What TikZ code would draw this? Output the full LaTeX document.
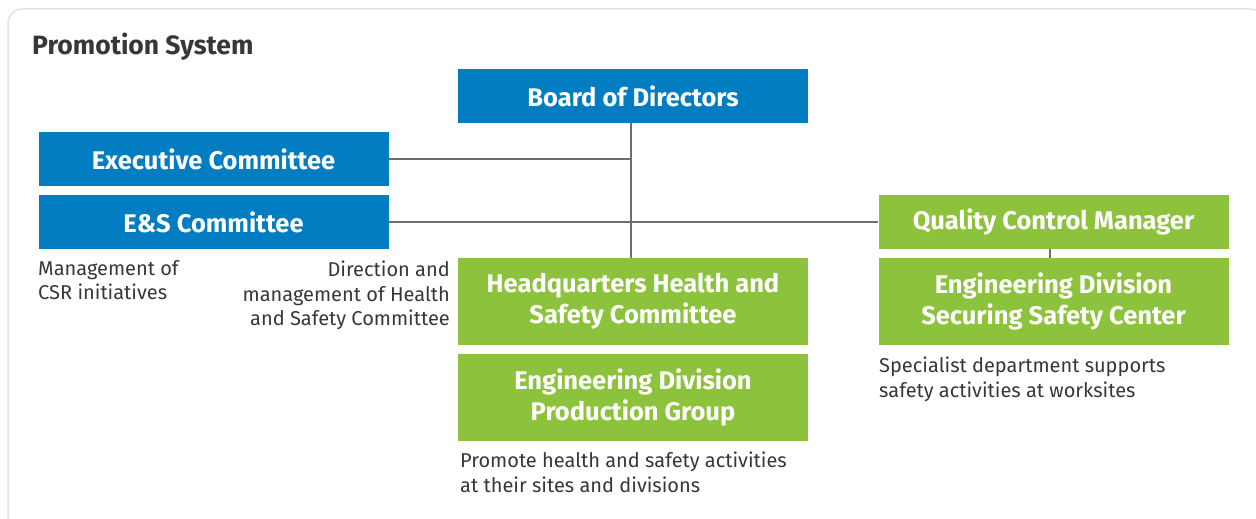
\documentclass[tikz,border=0pt]{standalone}
\usepackage{fontspec}
\setmainfont{Fira Sans}
\definecolor{bluebox}{RGB}{2,125,194}
\definecolor{greenbox}{RGB}{141,195,60}
\definecolor{linegrey}{RGB}{110,110,110}
\definecolor{framegrey}{RGB}{226,226,226}
\definecolor{textgrey}{RGB}{55,55,55}
\begin{document}
\begin{tikzpicture}[x=1pt,y=-1pt,
  box/.style={minimum width=350pt, inner sep=0pt, text=white, align=center,
     font=\fontsize{25.5}{31}\selectfont\bfseries},
  bluebx/.style={box, fill=bluebox, minimum height=54pt},
  greenbx/.style={box, fill=greenbox, minimum height=54pt},
  tallbx/.style={box, fill=greenbox, minimum height=87pt},
  conn/.style={draw=linegrey, line width=1.6pt},
  note/.style={inner sep=0pt, text=textgrey, font=\fontsize{20}{24.5}\selectfont}
]
\useasboundingbox (0,0) rectangle (1256,519);
\begin{scope}
\clip (0,0) rectangle (1256,519);
\draw[framegrey, line width=1.5pt, rounded corners=14pt] (8,9) rectangle (1264,540);
\end{scope}
\node[anchor=west, inner sep=0pt, text=textgrey, font=\fontsize{26.5}{30}\selectfont\bfseries] (title) at (32,47) {Promotion System};

\node[bluebx] (board) at (633,96) {Board of Directors};
\node[bluebx] (exec) at (213.5,159) {Executive Committee};
\node[bluebx] (es) at (213.5,222) {E\&S Committee};
\node[greenbx] (qcm) at (1053.5,222) {Quality Control Manager};
\node[tallbx] (hq) at (633,301.5) {Headquarters Health and\\Safety Committee};
\node[tallbx] (edpg) at (633,397.5) {Engineering Division\\Production Group};
\node[tallbx] (edssc) at (1053.5,301.5) {Engineering Division\\Securing Safety Center};

\coordinate (top) at (631,123);
\coordinate (bot) at (631,258);
\draw[conn] (top) -- (bot);
\draw[conn] (exec.east) -- (exec.east -| top);
\draw[conn] (es.east) -- (qcm.west);
\draw[conn] (qcm.south -| 1050,0) -- (edssc.north -| 1050,0);

\node[note, anchor=north west, align=left] (n1) at (38,260) {Management of\\CSR initiatives};
\node[note, anchor=north east, align=right] (n2) at (450,261) {Direction and\\management of Health\\and Safety Committee};
\node[note, anchor=north west, align=left] (n3) at (460,452) {Promote health and safety activities\\at their sites and divisions};
\node[note, anchor=north west, align=left] (n4) at (879,357) {Specialist department supports\\safety activities at worksites};
\end{tikzpicture}
\end{document}
